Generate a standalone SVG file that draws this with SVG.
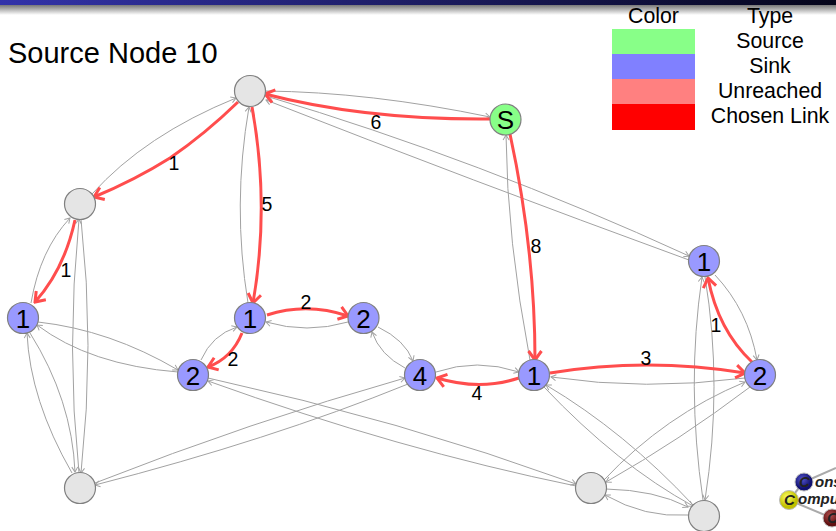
<svg xmlns="http://www.w3.org/2000/svg" width="836" height="531" viewBox="0 0 836 531">
<style>
text{font-family:"Liberation Sans",Arial,sans-serif;fill:#000}
.g{fill:none;stroke:#a2a2a2;stroke-width:1;marker-end:url(#ga)}
.r{fill:none;stroke:#ff4d4d;stroke-width:3;marker-end:url(#ra)}
.n{stroke:#808080;stroke-width:1.200}
.gray{fill:#e5e5e5}.sink{fill:#9999ff}.src{fill:#88ff88}
.nt{font-size:26px;text-anchor:middle}
.et{font-size:19.500px;text-anchor:middle}
.lg{font-size:21.300px;text-anchor:middle}
.logo{font-size:15px;font-weight:bold;font-style:italic;fill:#222}
.lc{font-size:15px;font-weight:bold;font-style:italic;fill:#222;text-anchor:middle}
</style>
<defs>
<linearGradient id="bar" x1="0" x2="1" y1="0" y2="0"><stop offset="0" stop-color="#3333aa"/><stop offset="1" stop-color="#05051a"/></linearGradient>
<linearGradient id="sh" x1="0" x2="0" y1="0" y2="1"><stop offset="0" stop-color="#777"/><stop offset="1" stop-color="#fff"/></linearGradient>
<marker id="ga" viewBox="-8 -5 10 10" markerWidth="10" markerHeight="10" markerUnits="userSpaceOnUse" orient="auto" refX="0" refY="0"><path d="M-5-3L0 0L-5 3" fill="none" stroke="#a2a2a2" stroke-width="1"/></marker>
<marker id="ra" viewBox="-12 -8 14 16" markerWidth="14" markerHeight="16" markerUnits="userSpaceOnUse" orient="auto" refX="0" refY="0"><path d="M-9-6.500L0 0L-9 6.500" fill="none" stroke="#ff4d4d" stroke-width="3"/></marker>
<radialGradient id="lb" cx=".4" cy=".35"><stop offset="0" stop-color="#5555cc"/><stop offset="1" stop-color="#101070"/></radialGradient>
<radialGradient id="ly" cx=".4" cy=".35"><stop offset="0" stop-color="#ffff66"/><stop offset="1" stop-color="#c0c000"/></radialGradient>
<radialGradient id="lr" cx=".4" cy=".35"><stop offset="0" stop-color="#b05050"/><stop offset="1" stop-color="#601010"/></radialGradient>
</defs>
<rect width="836" height="5" fill="url(#bar)"/>
<rect y="5" width="836" height="10" fill="url(#sh)"/>
<text x="8" y="63" font-size="29">Source Node 10</text>
<g id="legend">
<rect x="612" y="29" width="83" height="25" fill="#88ff88"/>
<rect x="612" y="54" width="83" height="25" fill="#8080ff"/>
<rect x="612" y="79" width="83" height="25" fill="#ff8080"/>
<rect x="612" y="104" width="83" height="26" fill="#ff0000"/>
<text class="lg" x="653.500" y="22.500">Color</text>
<text class="lg" x="770" y="22.500">Type</text>
<text class="lg" x="770" y="47.500">Source</text>
<text class="lg" x="770" y="72.500">Sink</text>
<text class="lg" x="770" y="97.500">Unreached</text>
<text class="lg" x="770" y="123">Chosen Link</text>
</g>
<g id="connectors">
<path class="g" d="M265 91Q370 92 490 117"/>
<path class="g" d="M266 96Q480 160 689 256"/>
<path class="g" d="M689 260Q470 180 266 100"/>
<path class="g" d="M92 194Q145 135 236 98"/>
<path class="g" d="M248 303Q232 205 249 107"/>
<path class="g" d="M31 303Q40 250 70 218"/>
<path class="g" d="M79 473Q66 350 79 219"/>
<path class="g" d="M81 219Q95 345 81 473"/>
<path class="g" d="M72 473Q30 400 27 333"/>
<path class="g" d="M30 333Q72 400 75 472"/>
<path class="g" d="M38 322Q110 330 178 370"/>
<path class="g" d="M178 372Q90 365 37 325"/>
<path class="g" d="M201 360Q212 335 237 327"/>
<path class="g" d="M348 322Q307 334 266 322"/>
<path class="g" d="M378 327Q405 340 413 361"/>
<path class="g" d="M405 368Q380 355 372 332"/>
<path class="g" d="M436 372Q477 358 519 372"/>
<path class="g" d="M745 378Q645 391 551 377"/>
<path class="g" d="M715 275Q748 310 757 360"/>
<path class="g" d="M703 500Q686 385 702 277"/>
<path class="g" d="M705 277Q723 385 705 500"/>
<path class="g" d="M693 505Q625 432 546 385"/>
<path class="g" d="M544 387Q618 465 693 506"/>
<path class="g" d="M604 480Q665 415 745 382"/>
<path class="g" d="M750 387Q680 440 606 482"/>
<path class="g" d="M606 489Q655 490 688 507"/>
<path class="g" d="M688 515Q645 518 605 495"/>
<path class="g" d="M208 378Q400 420 576 484"/>
<path class="g" d="M576 486Q400 450 208 381"/>
<path class="g" d="M95 483Q250 422 405 378"/>
<path class="g" d="M408 384Q270 440 95 485"/>
<path class="g" d="M530 360Q507 240 506 135"/>
<path class="r" d="M490 119Q365 120 265 94"/>
<path class="r" d="M238 102Q205 134 170 158Q135 180 94 197"/>
<path class="r" d="M252 107Q270 205 253 303"/>
<path class="r" d="M75 220Q64 270 35 302"/>
<path class="r" d="M242 333Q232 358 208 367"/>
<path class="r" d="M267 315Q307 302 348 316"/>
<path class="r" d="M519 378Q480 391 437 378"/>
<path class="r" d="M510 134Q535 250 535 360"/>
<path class="r" d="M550 373Q647 357 745 373"/>
<path class="r" d="M752 362Q718 330 708 278"/>
</g>
<g id="edge-labels">
<text class="et" x="174" y="170">1</text>
<text class="et" x="376" y="129">6</text>
<text class="et" x="267" y="211">5</text>
<text class="et" x="66" y="277">1</text>
<text class="et" x="536" y="253">8</text>
<text class="et" x="306" y="309">2</text>
<text class="et" x="233" y="366">2</text>
<text class="et" x="477" y="400">4</text>
<text class="et" x="646" y="365">3</text>
<text class="et" x="716" y="332">1</text>
</g>
<g id="node-a"><circle class="n gray" cx="250" cy="91" r="15.500"/></g>
<g id="node-s"><circle class="n src" cx="505.500" cy="119.500" r="15.500"/><text class="nt" x="505.500" y="128.500">S</text></g>
<g id="node-b"><circle class="n gray" cx="80" cy="204" r="15.500"/></g>
<g id="node-c"><circle class="n sink" cx="23" cy="318" r="15.500"/><text class="nt" x="23" y="327.500">1</text></g>
<g id="node-d"><circle class="n sink" cx="250" cy="318" r="15.500"/><text class="nt" x="250" y="327.500">1</text></g>
<g id="node-e"><circle class="n sink" cx="363.500" cy="318" r="15.500"/><text class="nt" x="363.500" y="327.500">2</text></g>
<g id="node-f"><circle class="n sink" cx="193" cy="375" r="15.500"/><text class="nt" x="193" y="384.500">2</text></g>
<g id="node-g"><circle class="n sink" cx="420" cy="375" r="15.500"/><text class="nt" x="420" y="384.500">4</text></g>
<g id="node-h"><circle class="n sink" cx="534" cy="375" r="15.500"/><text class="nt" x="534" y="384.500">1</text></g>
<g id="node-i"><circle class="n sink" cx="760" cy="375" r="15.500"/><text class="nt" x="760" y="384.500">2</text></g>
<g id="node-j"><circle class="n sink" cx="704" cy="261" r="15.500"/><text class="nt" x="704" y="270.500">1</text></g>
<g id="node-k"><circle class="n gray" cx="80" cy="488" r="15.500"/></g>
<g id="node-l"><circle class="n gray" cx="591" cy="488" r="15.500"/></g>
<g id="node-m"><circle class="n gray" cx="704" cy="516" r="15.500"/></g>
<g id="logo">
<path d="M804 482L836 468M789 500L804 482M789 500L832 518" stroke="#aaa" stroke-width="2" fill="none"/>
<circle cx="804" cy="482" r="9" fill="url(#lb)" stroke="#bbb"/>
<circle cx="789" cy="500" r="9.500" fill="url(#ly)" stroke="#bbb"/>
<circle cx="832" cy="518" r="9" fill="url(#lr)" stroke="#bbb"/>
<text class="lc" x="804.500" y="487">C</text>
<text class="lc" x="789.500" y="505">C</text>
<text class="lc" x="832.500" y="523">C</text>
<text class="logo" x="815" y="487">ons</text>
<text class="logo" x="798" y="504">ompu</text>
</g>
</svg>
